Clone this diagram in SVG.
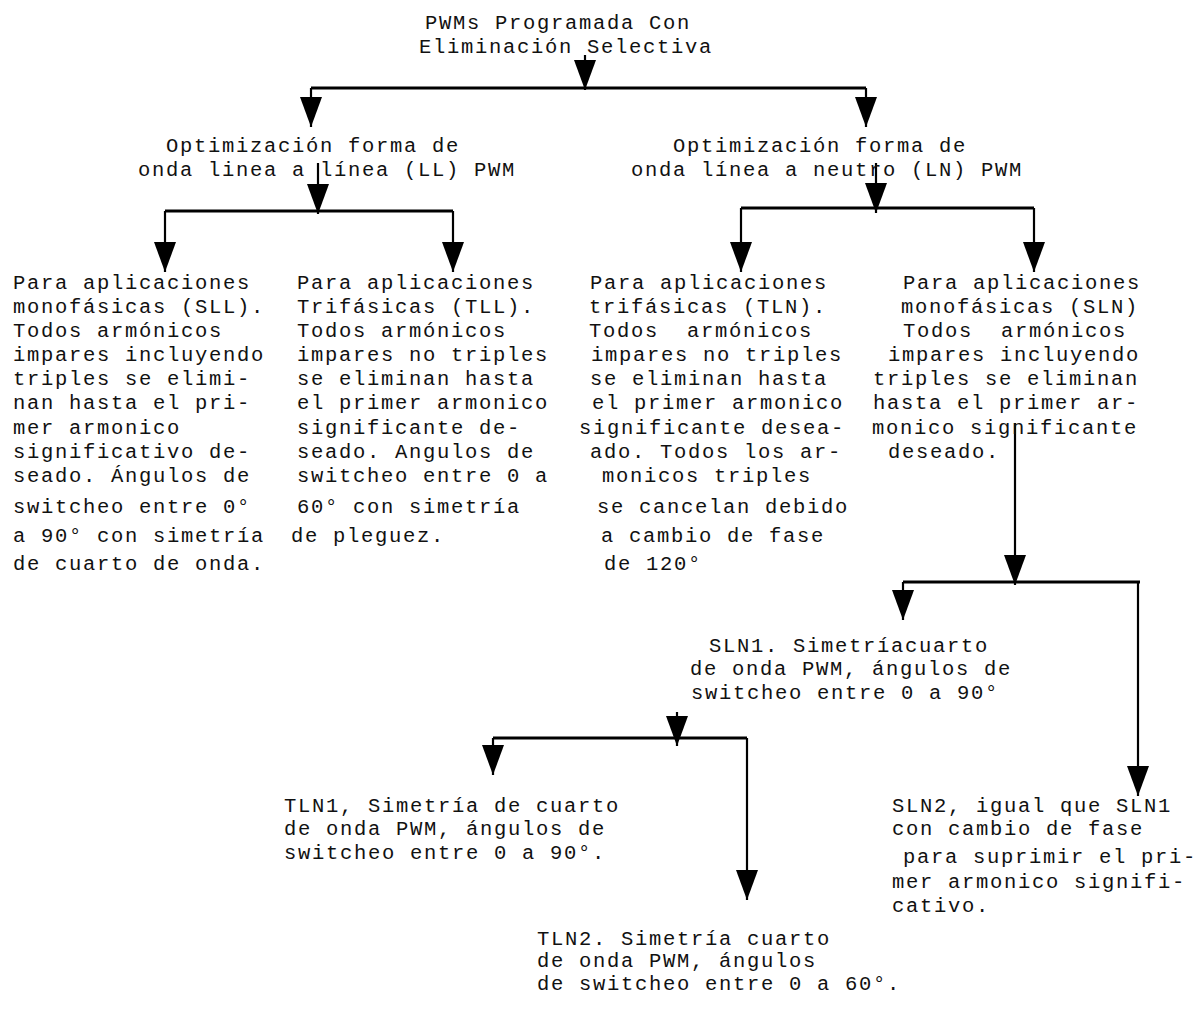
<svg xmlns="http://www.w3.org/2000/svg" width="1203" height="1014" viewBox="0 0 1203 1014">
<defs>
<style>
text{font-family:"Liberation Mono","Courier New",monospace;font-size:20.5px;letter-spacing:1.7px;fill:#111;white-space:pre}
.c{stroke:#000;stroke-width:2.2;fill:none}
.h{stroke:#000;stroke-width:3;fill:none}
</style>
<marker id="ah" viewBox="0 -12 30 24" refX="30" refY="0" markerWidth="30" markerHeight="24" markerUnits="userSpaceOnUse" orient="auto">
<path d="M0,-11 L30,0 L0,11 z" fill="#000"/>
</marker>
</defs>
<rect width="1203" height="1014" fill="#fff"/>
<g id="connectors">
<line class="c" x1="585" y1="55" x2="585" y2="90" marker-end="url(#ah)"/>
<line class="h" x1="311" y1="88" x2="866" y2="88"/>
<line class="c" x1="311" y1="88" x2="311" y2="127" marker-end="url(#ah)"/>
<line class="c" x1="866" y1="88" x2="866" y2="127" marker-end="url(#ah)"/>
<line class="c" x1="318" y1="163" x2="318" y2="214" marker-end="url(#ah)"/>
<line class="h" x1="165" y1="211" x2="453" y2="211"/>
<line class="c" x1="165" y1="211" x2="165" y2="272" marker-end="url(#ah)"/>
<line class="c" x1="453" y1="211" x2="453" y2="272" marker-end="url(#ah)"/>
<line class="c" x1="876" y1="163" x2="876" y2="213" marker-end="url(#ah)"/>
<line class="h" x1="741" y1="208" x2="1034" y2="208"/>
<line class="c" x1="741" y1="208" x2="741" y2="272" marker-end="url(#ah)"/>
<line class="c" x1="1034" y1="208" x2="1034" y2="272" marker-end="url(#ah)"/>
<line class="c" x1="1015" y1="423" x2="1015" y2="585" marker-end="url(#ah)"/>
<line class="h" x1="903" y1="582" x2="1140" y2="582"/>
<line class="c" x1="903" y1="582" x2="903" y2="620" marker-end="url(#ah)"/>
<line class="c" x1="1138" y1="582" x2="1138" y2="796" marker-end="url(#ah)"/>
<line class="c" x1="677" y1="712" x2="677" y2="746" marker-end="url(#ah)"/>
<line class="h" x1="493" y1="738" x2="747" y2="738"/>
<line class="c" x1="493" y1="738" x2="493" y2="775" marker-end="url(#ah)"/>
<line class="c" x1="747" y1="738" x2="747" y2="900" marker-end="url(#ah)"/>
</g>
<g id="root">
<text x="425" y="29">PWMs Programada Con</text>
<text x="419" y="53">Eliminación Selectiva</text>
</g>
<g id="ll">
<text x="166" y="152">Optimización forma de</text>
<text x="138" y="176">onda linea a línea (LL) PWM</text>
</g>
<g id="ln">
<text x="673" y="152">Optimización forma de</text>
<text x="631" y="176">onda línea a neutro (LN) PWM</text>
</g>
<g id="sll">
<text x="13" y="289">Para aplicaciones</text>
<text x="13" y="313">monofásicas (SLL).</text>
<text x="13" y="337">Todos armónicos</text>
<text x="13" y="361">impares incluyendo</text>
<text x="13" y="385">triples se elimi-</text>
<text x="13" y="409">nan hasta el pri-</text>
<text x="13" y="434">mer armonico</text>
<text x="13" y="458">significativo de-</text>
<text x="13" y="482">seado. Ángulos de</text>
<text x="13" y="513">switcheo entre 0°</text>
<text x="13" y="542">a 90° con simetría</text>
<text x="13" y="570">de cuarto de onda.</text>
</g>
<g id="tll">
<text x="297" y="289">Para aplicaciones</text>
<text x="297" y="313">Trifásicas (TLL).</text>
<text x="297" y="337">Todos armónicos</text>
<text x="297" y="361">impares no triples</text>
<text x="297" y="385">se eliminan hasta</text>
<text x="297" y="409">el primer armonico</text>
<text x="297" y="434">significante de-</text>
<text x="297" y="458">seado. Angulos de</text>
<text x="297" y="482">switcheo entre 0 a</text>
<text x="297" y="513">60° con simetría</text>
<text x="291" y="542">de pleguez.</text>
</g>
<g id="tln">
<text x="590" y="289">Para aplicaciones</text>
<text x="589" y="313">trifásicas (TLN).</text>
<text x="589" y="337">Todos  armónicos</text>
<text x="591" y="361">impares no triples</text>
<text x="590" y="385">se eliminan hasta</text>
<text x="592" y="409">el primer armonico</text>
<text x="579" y="434">significante desea-</text>
<text x="590" y="458">ado. Todos los ar-</text>
<text x="602" y="482">monicos triples</text>
<text x="597" y="513">se cancelan debido</text>
<text x="601" y="542">a cambio de fase</text>
<text x="604" y="570">de 120°</text>
</g>
<g id="sln">
<text x="903" y="289">Para aplicaciones</text>
<text x="901" y="313">monofásicas (SLN)</text>
<text x="903" y="337">Todos  armónicos</text>
<text x="888" y="361">impares incluyendo</text>
<text x="873" y="385">triples se eliminan</text>
<text x="873" y="409">hasta el primer ar-</text>
<text x="872" y="434">monico significante</text>
<text x="888" y="458">deseado.</text>
</g>
<g id="sln1">
<text x="709" y="652">SLN1. Simetríacuarto</text>
<text x="690" y="675">de onda PWM, ángulos de</text>
<text x="691" y="699">switcheo entre 0 a 90°</text>
</g>
<g id="tln1">
<text x="284" y="812">TLN1, Simetría de cuarto</text>
<text x="284" y="835">de onda PWM, ángulos de</text>
<text x="284" y="859">switcheo entre 0 a 90°.</text>
</g>
<g id="sln2">
<text x="892" y="812">SLN2, igual que SLN1</text>
<text x="892" y="835">con cambio de fase</text>
<text x="903" y="863">para suprimir el pri-</text>
<text x="892" y="888">mer armonico signifi-</text>
<text x="892" y="912">cativo.</text>
</g>
<g id="tln2">
<text x="537" y="945">TLN2. Simetría cuarto</text>
<text x="537" y="967">de onda PWM, ángulos</text>
<text x="537" y="990">de switcheo entre 0 a 60°.</text>
</g>
</svg>
